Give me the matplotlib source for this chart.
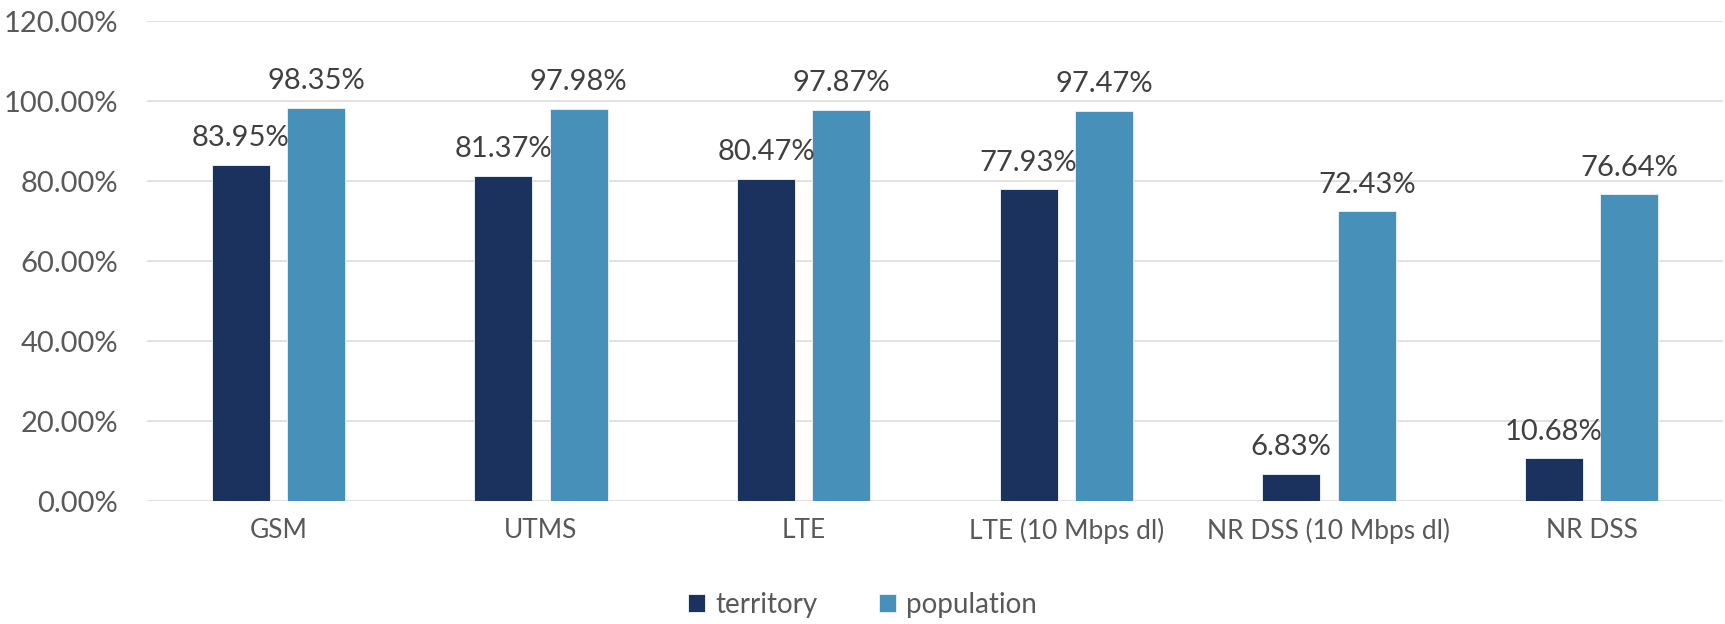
import matplotlib
matplotlib.use("Agg")
import matplotlib.pyplot as plt
import numpy as np
from matplotlib.ticker import FuncFormatter, MultipleLocator

categories = ["GSM", "UTMS", "LTE", "LTE (10 Mbps dl)", "NR DSS (10 Mbps dl)", "NR DSS"]
territory = [83.95, 81.37, 80.47, 77.93, 6.83, 10.68]
population = [98.35, 97.98, 97.87, 97.47, 72.43, 76.64]
series_names = ["territory", "population"]

plt.rcParams['font.family'] = ['Lato', 'DejaVu Sans']

fig = plt.figure(figsize=(17.25, 6.24), dpi=100)
ax = fig.add_axes([147/1725, 1-501/624, (1723-147)/1725, (501-21)/624])

x = np.arange(len(categories))
w = 0.22
off = 0.1435
c_dark = "#1B325E"
c_light = "#4690BA"
b1 = ax.bar(x - off, territory, w, color=c_dark, edgecolor="#E6ECF3", linewidth=0.7, label=series_names[0], zorder=3)
b2 = ax.bar(x + off, population, w, color=c_light, edgecolor="#E6ECF3", linewidth=0.7, label=series_names[1], zorder=3)

for bars, vals in ((b1, territory), (b2, population)):
    for rect, v in zip(bars, vals):
        ax.annotate(f"{v:.2f}%", (rect.get_x() + rect.get_width()/2, v),
                    xytext=(0, 13.5), textcoords="offset points",
                    ha="center", va="baseline", fontsize=21, color="#404040")

ax.set_xlim(-0.5, len(categories) - 0.5)
ax.set_ylim(0, 120)
ax.yaxis.set_major_locator(MultipleLocator(20))
ax.yaxis.set_major_formatter(FuncFormatter(lambda v, p: f"{v:.2f}%"))
ax.set_xticks(x)
ax.set_xticklabels(categories)
ax.tick_params(axis="y", length=0, pad=21, labelsize=21, labelcolor="#595959")
ax.tick_params(axis="x", length=0, pad=12, labelsize=19, labelcolor="#595959")
ax.grid(axis="y", color="#D9D9D9", linewidth=1.1, zorder=0)
ax.set_axisbelow(True)
for s in ax.spines.values():
    s.set_visible(False)

fig.legend(handles=[b1, b2], labels=series_names, loc="center", bbox_to_anchor=(0.5, 1-605/624),
           ncol=2, frameon=False, fontsize=20, labelcolor="#595959",
           handlelength=0.62, handleheight=0.62, handletextpad=0.36, columnspacing=2.2)

fig.savefig("out.png", dpi=100)
